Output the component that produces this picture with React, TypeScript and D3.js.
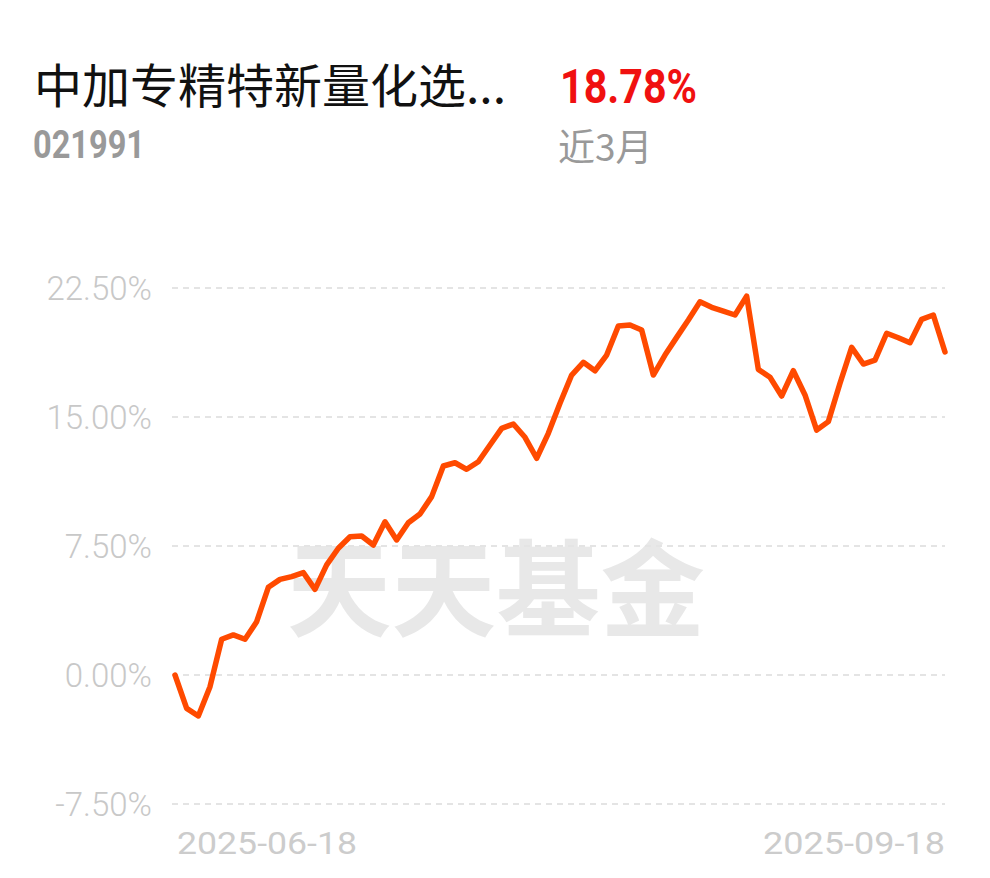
import React from "react";
import * as d3 from "d3";

const values: number[] = [
  0, -1.94, -2.38, -0.68, 2.08, 2.33, 2.08, 3.1, 5.1, 5.56, 5.72, 5.95, 4.98, 6.4, 7.37, 8.04, 8.08,
  7.56, 8.91, 7.85, 8.85, 9.36, 10.37, 12.15, 12.34, 11.96, 12.4, 13.37, 14.34, 14.59, 13.82, 12.6,
  14.05, 15.8, 17.44, 18.18, 17.69, 18.6, 20.29, 20.35, 20.06, 17.44, 18.6, 19.63, 20.64, 21.7,
  21.38, 21.16, 20.93, 22.03, 17.77, 17.31, 16.22, 17.69, 16.28, 14.24, 14.73, 16.96, 19.05, 18.08,
  18.31, 19.87, 19.61, 19.32, 20.68, 20.93, 18.78,
];
const yTicks: number[] = [-7.5, 0, 7.5, 15, 22.5];
const xLabels: string[] = ["2025-06-18", "2025-09-18"];
const title = "中加专精特新量化选...";
const code = "021991";
const returnText = "18.78%";
const periodText = "近3月";
const watermark = "天天基金";

export default function App() {
  const W = 990;
  const H = 878;
  const left = 175;
  const right = 945;
  const x = d3.scaleLinear().domain([0, values.length - 1]).range([left, right]);
  const y = d3.scaleLinear().domain([-7.5, 22.5]).range([804, 288]);
  const line = d3
    .line<number>()
    .x((_, i) => x(i))
    .y((d) => y(d));
  const cjk = "'Noto Sans CJK SC', 'Noto Sans', sans-serif";
  const num = "Roboto, 'Noto Sans', sans-serif";
  return (
    <svg
      width={W}
      height={H}
      style={{ position: "absolute", left: 0, top: 0, background: "#fff" }}
    >
      <rect x={0} y={0} width={W} height={H} fill="#fff" />
      <text
        x={34}
        y={103}
        fontFamily={cjk}
        fontSize={47}
        fill="#111"
        textLength={472}
        lengthAdjust="spacingAndGlyphs"
      >
        {title}
      </text>
      <text
        x={560}
        y={103}
        fontFamily={num}
        fontWeight={700}
        fontSize={48}
        fill="#f01010"
        textLength={137}
        lengthAdjust="spacingAndGlyphs"
      >
        {returnText}
      </text>
      <text
        x={33}
        y={158}
        fontFamily={num}
        fontWeight={700}
        fontSize={38}
        fill="#999"
        textLength={112}
        lengthAdjust="spacingAndGlyphs"
      >
        {code}
      </text>
      <text x={558} y={161} fontFamily={cjk} fontSize={37} fill="#999">
        {periodText}
      </text>
      <text
        x={287}
        y={628}
        fontFamily={cjk}
        fontWeight={700}
        fontSize={105}
        fill="#e8e8e8"
        textLength={418}
        lengthAdjust="spacingAndGlyphs"
      >
        {watermark}
      </text>
      {yTicks.map((t) => (
        <g key={t}>
          <line
            x1={172}
            x2={right}
            y1={y(t)}
            y2={y(t)}
            stroke="#e4e4e4"
            strokeWidth={2}
            strokeDasharray="6 5"
          />
          <text
            x={152}
            y={y(t) + 12}
            textAnchor="end"
            fontFamily={num}
            fontWeight={300}
            fontSize={33}
            fill="#c8c8c8"
          >
            {(t === -7.5 ? "-" : "") + Math.abs(t).toFixed(2) + "%"}
          </text>
        </g>
      ))}
      <path
        d={line(values) || ""}
        fill="none"
        stroke="#ff4a00"
        strokeWidth={5.5}
        strokeLinejoin="round"
        strokeLinecap="round"
      />
      <text
        x={177}
        y={854}
        fontFamily={num}
        fontSize={32}
        fill="#cccccc"
        textLength={180}
        lengthAdjust="spacingAndGlyphs"
      >
        {xLabels[0]}
      </text>
      <text
        x={763}
        y={854}
        fontFamily={num}
        fontSize={32}
        fill="#cccccc"
        textLength={182}
        lengthAdjust="spacingAndGlyphs"
      >
        {xLabels[1]}
      </text>
    </svg>
  );
}
